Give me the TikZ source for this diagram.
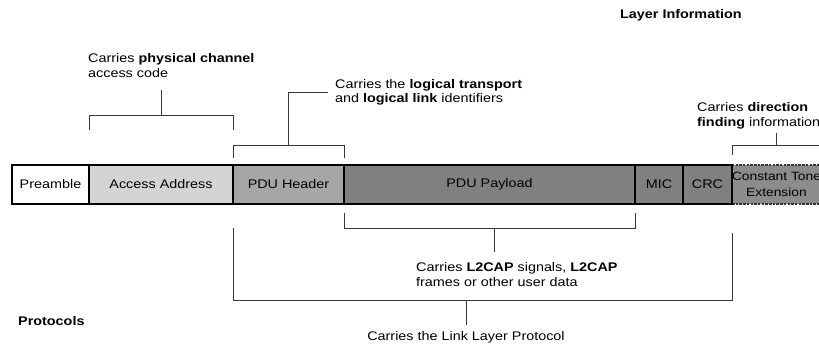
\documentclass[tikz,border=0pt]{standalone}
\usepackage{fontspec}
\setmainfont{Liberation Sans}[FakeStretch=1.15]
\usetikzlibrary{positioning}
\definecolor{lite}{RGB}{212,212,212}
\definecolor{midg}{RGB}{166,166,166}
\definecolor{dark}{RGB}{128,128,128}
\definecolor{ctefill}{RGB}{140,140,140}
\definecolor{ln}{RGB}{55,55,55}

\begin{document}
\begin{tikzpicture}[x=1pt,y=-1pt,
  node distance=0pt,
  font=\fontsize{12.5}{14.5}\selectfont,
  cell/.style={draw=black,line width=1.6pt,minimum height=39pt,inner sep=0pt,outer sep=0pt},
  lbl/.style={align=left,inner sep=0pt,anchor=west},
  hd/.style={inner sep=0pt,anchor=west,font=\fontsize{12.5}{14.5}\selectfont\bfseries},
  brk/.style={draw=ln,line width=0.9pt}]
\useasboundingbox (0,0) rectangle (819,354);
\clip (0,0) rectangle (819,354);
\node[hd] (layer) at (620,15) {Layer Information};
\node[hd] (proto) at (18,321) {Protocols};

\node[cell,fill=white,minimum width=77pt,anchor=west] (pre) at (12,184.5) {Preamble};
\node[cell,fill=lite,minimum width=144pt,right=of pre] (aa) {Access Address};
\node[cell,fill=midg,minimum width=111pt,right=of aa] (hdr) {PDU Header};
\node[cell,fill=dark,minimum width=291pt,right=of hdr] (pay) {PDU Payload};
\node[cell,fill=dark,minimum width=48pt,right=of pay] (mic) {MIC};
\node[cell,fill=dark,minimum width=49pt,right=of mic] (crc) {CRC};
\node[cell,fill=ctefill,draw=ln,line width=2.4pt,dash pattern=on 2.5pt off 1.2pt,
  minimum width=88pt,align=center,font=\fontsize{12}{15.5}\selectfont,right=of crc] (cte) {Constant Tone\\Extension};
\draw[line width=2.6pt] (pre.north west) rectangle (crc.south east);

\node[lbl] (phy) at (88,65.5) {Carries \textbf{physical channel}\\access code};
\node[lbl] (lt) at (335,92.5) {Carries the \textbf{logical transport}\\and \textbf{logical link} identifiers};
\node[lbl] (dir) at (697,116) {Carries \textbf{direction}\\\textbf{finding} information};
\node[lbl] (l2) at (416,274.5) {Carries \textbf{L2CAP} signals, \textbf{L2CAP}\\frames or other user data};
\node (ll) at (466,337) {Carries the Link Layer Protocol};

\draw[brk] ([yshift=35pt]aa.north west) -- ++(0,-15) -| ([yshift=35pt]aa.north east);
\draw[brk] ([yshift=50pt]aa.north) -- ++(0,-25);
\draw[brk] ([yshift=7pt]hdr.north west) -- ++(0,-13) -| ([yshift=7pt]hdr.north east);
\draw[brk,shorten >=7pt] ([yshift=20pt]hdr.north) |- (lt.west);
\draw[brk] ([yshift=10pt]cte.north west) -- ++(0,-10) -| ([yshift=10pt]cte.north east);
\draw[brk,shorten >=4pt] ([yshift=20pt]cte.north) -- (cte.north |- dir.south);
\draw[brk] ([yshift=-9pt]pay.south west) -- ++(0,15) -| ([yshift=-9pt]pay.south east);
\draw[brk] ([yshift=-24pt,xshift=5pt]pay.south) -- ++(0,24);
\draw[brk] ([yshift=-24pt]hdr.south west) -- ++(0,72) -| ([yshift=-29pt]cte.south west);
\draw[brk] (ll.north |- 0,300) -- ++(0,25);
\end{tikzpicture}
\end{document}
